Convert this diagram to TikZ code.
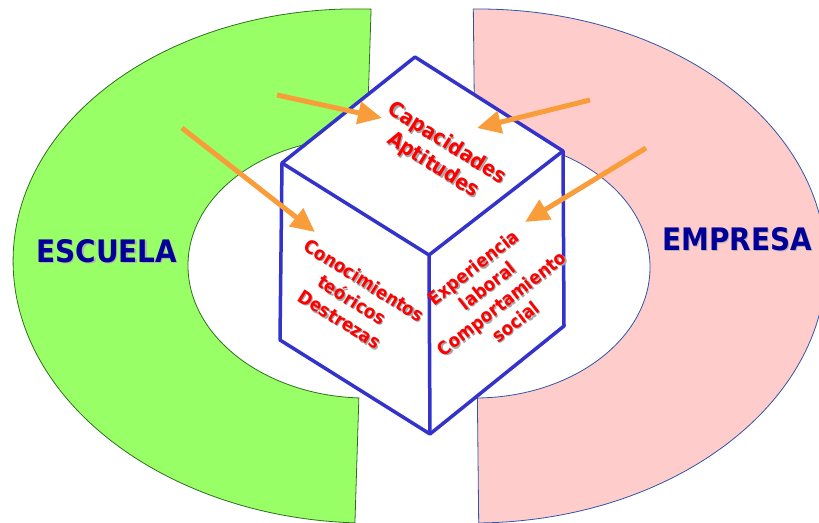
\documentclass[tikz,border=0pt]{standalone}
\usepackage{fontspec}
\usetikzlibrary{arrows.meta}
\newfontfamily\condb{DejaVu Sans Condensed}
\definecolor{greenA}{HTML}{99FF66}
\definecolor{greenB}{HTML}{2F6F1F}
\definecolor{pinkA}{HTML}{FFCCCC}
\definecolor{pinkB}{HTML}{2F55A5}
\definecolor{navyT}{HTML}{000099}
\definecolor{orangeA}{HTML}{F99D3A}
\definecolor{cubeB}{HTML}{3333CC}
\definecolor{redT}{HTML}{FF0000}
\begin{document}
\begin{tikzpicture}[x=1pt,y=1pt,
  greenring/.style={fill=greenA, draw=greenB, line width=0.8pt},
  pinkring/.style={fill=pinkA, draw=pinkB, line width=0.8pt},
  cubeline/.style={draw=cubeB, line width=3.5pt, line join=round},
  feed/.style={draw=orangeA, line width=5pt, -{Triangle[length=24pt,width=22pt,fill=orangeA]}},
  bigtitle/.style={text=navyT, font=\condb\bfseries\fontsize{31}{36}\selectfont, inner sep=0pt},
  bigshadow/.style={text=black!30, font=\condb\bfseries\fontsize{31}{36}\selectfont, inner sep=0pt},
  facebig/.style={text=redT, align=center, inner sep=0pt, font=\condb\bfseries\fontsize{21}{26}\selectfont},
  facebigsh/.style={text=black!35, align=center, inner sep=0pt, font=\condb\bfseries\fontsize{21}{26}\selectfont},
  facesmall/.style={text=redT, align=center, inner sep=0pt, font=\condb\bfseries\fontsize{18.5}{23}\selectfont},
  facesmallsh/.style={text=black!35, align=center, inner sep=0pt, font=\condb\bfseries\fontsize{18.5}{23}\selectfont}
]
\useasboundingbox (0,0) rectangle (819,-522);

% ESCUELA ring (left half)
\path[greenring, rotate around={-1.8:(363,-266)}]
  (363,-9) arc[start angle=90, end angle=270, x radius=350, y radius=257]
  -- (363,-398) arc[start angle=270, end angle=90, x radius=175, y radius=130]
  -- cycle;
% EMPRESA ring (right half)
\path[pinkring, rotate around={0.6:(476,-266)}]
  (476,-9) arc[start angle=90, end angle=-90, x radius=350, y radius=257]
  -- (476,-398) arc[start angle=-90, end angle=90, x radius=174, y radius=130]
  -- cycle;

\node[bigshadow] (escuela-sh) at (108.2,-252.2) {ESCUELA};
\node[bigtitle] (escuela) at (107,-251) {ESCUELA};
\node[bigshadow] (empresa-sh) at (738.2,-240.2) {EMPRESA};
\node[bigtitle] (empresa) at (737,-239) {EMPRESA};

% cube
\coordinate (T) at (415,-57);
\coordinate (LT) at (282,-163);
\coordinate (RT) at (563,-151);
\coordinate (C) at (429,-255);
\coordinate (LB) at (280,-340);
\coordinate (B) at (430,-434);
\coordinate (RB) at (564,-326);
\path[cubeline, fill=white] (T) -- (RT) -- (RB) -- (B) -- (LB) -- (LT) -- cycle;
\draw[cubeline] (LT) -- (C) -- (RT);
\draw[cubeline] (C) -- (B);

% face texts
\node[facebigsh, rotate=-32] (topface-sh) at (441.3,-155.8) {Capacidades\\Aptitudes};
\node[facebig, rotate=-32] (topface) at (440,-154.5) {Capacidades\\Aptitudes};
\node[facesmallsh, rotate=-32] (leftface-sh) at (353.2,-301.2) {Conocimientos\\teóricos\\Destrezas};
\node[facesmall, rotate=-32] (leftface) at (352,-300) {Conocimientos\\teóricos\\Destrezas};
\node[facesmallsh, rotate=38] (rightface-sh) at (495.7,-295.7) {Experiencia\\laboral\\Comportamiento\\social};
\node[facesmall, rotate=38] (rightface) at (494.5,-294.5) {Experiencia\\laboral\\Comportamiento\\social};

% arrows
\coordinate (s1) at (277,-95);   \coordinate (e1) at (382,-118);
\coordinate (s2) at (182,-128);  \coordinate (e2) at (315,-232);
\coordinate (s3) at (590,-100);  \coordinate (e3) at (477,-128);
\coordinate (s4) at (646,-148);  \coordinate (e4) at (525,-222);
\draw[feed] (s1) -- (e1);
\draw[feed] (s2) -- (e2);
\draw[feed] (s3) -- (e3);
\draw[feed] (s4) -- (e4);
\end{tikzpicture}
\end{document}
